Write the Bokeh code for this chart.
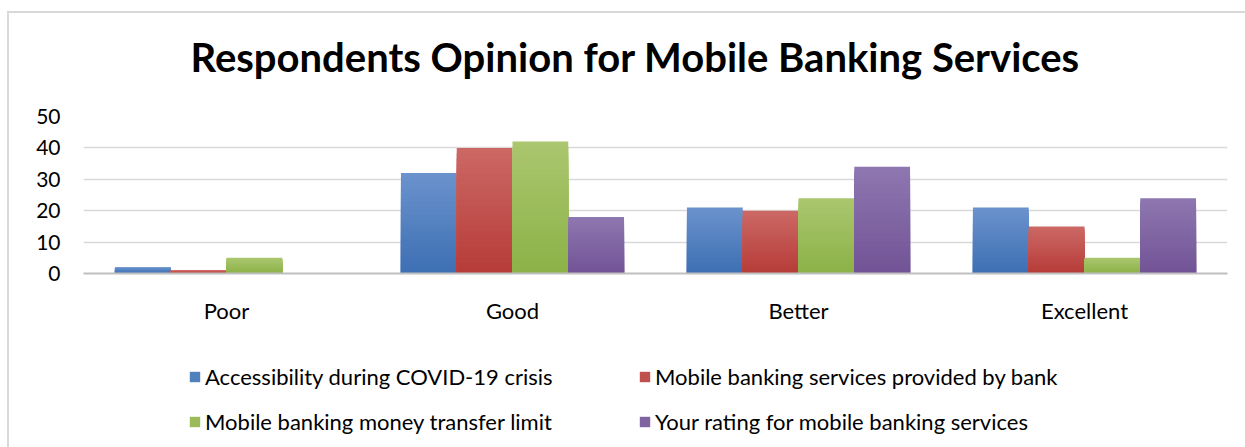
from bokeh.plotting import figure
from bokeh.layouts import column
from bokeh.models import ColumnDataSource, FactorRange, Legend, LegendItem, Range1d, Label
from bokeh.transform import dodge
from bokeh.embed import file_html
from bokeh.resources import INLINE

categories = ["Poor", "Good", "Better", "Excellent"]
series_names = [
    "Accessibility during COVID-19 crisis",
    "Mobile banking services provided by bank",
    "Mobile banking money transfer limit",
    "Your rating for mobile banking services",
]
accessibility = [2, 32, 21, 21]
services_by_bank = [1, 40, 20, 15]
transfer_limit = [5, 42, 24, 5]
your_rating = [0, 18, 34, 24]
y_ticks = [0, 10, 20, 30, 40, 50]
title_text = "Respondents Opinion for Mobile Banking Services"

series_values = [accessibility, services_by_bank, transfer_limit, your_rating]
mid_colors = ["#4f81bd", "#c0504d", "#9bbb59", "#8064a2"]
top_rgb = [(106, 146, 204), (204, 104, 100), (170, 198, 110), (142, 118, 176)]
bot_rgb = [(62, 112, 180), (182, 60, 57), (140, 178, 72), (114, 84, 150)]
offsets = [-0.2925, -0.0975, 0.0975, 0.2925]

FONT = "Lato"
W = 1236

x_range = FactorRange(*categories, range_padding=0)

def blank(height):
    f = figure(width=W, height=height, output_backend="svg", toolbar_location=None,
               x_range=x_range, y_range=Range1d(1000, 1001),
               x_axis_location=None, y_axis_location=None, min_border=0)
    f.outline_line_color = None
    f.grid.grid_line_color = None
    f.background_fill_color = "white"
    f.border_fill_color = "white"
    return f

# title panel
tp = blank(88)
tp.add_layout(Label(x=107, y=45, x_units="screen", y_units="screen", text=title_text,
                    text_font=FONT, text_font_size="40px", text_font_style="bold",
                    text_align="left", text_baseline="middle", text_color="#000000"))

# chart
p = figure(x_range=x_range, y_range=(0, 50),
           width=W, height=239, output_backend="svg", toolbar_location=None,
           min_border_left=74, min_border_right=18, min_border_top=15, min_border_bottom=67)
p.outline_line_color = None
p.background_fill_color = "white"
p.border_fill_color = "white"

# bars with a vertical shading (lighter at the top), drawn as nested layers
N = 24
for vals, off, t, b in zip(series_values, offsets, top_rgb, bot_rgb):
    for j in range(N):
        f = j / (N - 1)
        col = "#%02x%02x%02x" % tuple(int(round(t[i] + (b[i] - t[i]) * f)) for i in range(3))
        frac = (N - j) / N
        src = ColumnDataSource(dict(cat=categories, top=[v * frac for v in vals]))
        p.vbar(x=dodge("cat", off, range=x_range), top="top", width=0.195, source=src,
               fill_color=col, line_color=None)

p.ygrid.grid_line_color = "#d9d9d9"
p.ygrid.grid_line_width = 1.5
p.xgrid.grid_line_color = None

p.yaxis.ticker = y_ticks
p.yaxis.axis_line_color = None
p.yaxis.major_tick_line_color = None
p.yaxis.minor_tick_line_color = None
p.yaxis.major_label_standoff = 17
p.yaxis.major_label_text_font = FONT
p.yaxis.major_label_text_font_size = "21px"
p.yaxis.major_label_text_color = "#000000"

p.xaxis.axis_line_color = "#bfbfbf"
p.xaxis.axis_line_width = 2
p.xaxis.major_tick_line_color = None
p.xaxis.minor_tick_line_color = None
p.xaxis.major_label_standoff = 17
p.xaxis.major_label_text_font = FONT
p.xaxis.major_label_text_font_size = "22px"
p.xaxis.major_label_text_color = "#000000"

# legend panel (its own figure so the legend is not clipped by the chart frame)
lp = blank(107)
lsrc = ColumnDataSource(dict(cat=categories, s0=accessibility, s1=services_by_bank,
                             s2=transfer_limit, s3=your_rating))
swatches = [lp.vbar(x=dodge("cat", off, range=x_range), top="s%d" % i, bottom="s%d" % i,
                    width=0.195, source=lsrc, fill_color=c, line_color=None)
            for i, (c, off) in enumerate(zip(mid_colors, offsets))]

def make_legend(idx, loc):
    lg = Legend(items=[LegendItem(label=series_names[i], renderers=[swatches[i]]) for i in idx],
                location=loc, orientation="vertical")
    lg.border_line_color = None
    lg.background_fill_alpha = 0
    lg.padding = 0
    lg.margin = 0
    lg.spacing = 18
    lg.label_height = 20
    lg.glyph_height = 13
    lg.glyph_width = 13
    lg.label_standoff = 4
    lg.label_text_font = FONT
    lg.label_text_font_size = "22px"
    lg.label_text_color = "#000000"
    return lg

lp.add_layout(make_legend([0, 2], (105, 12)))
lp.add_layout(make_legend([1, 3], (555, 12)))

layout = column(tp, p, lp, spacing=0)
layout.margin = (11, 0, 0, 7)
layout.styles = {"border-top": "2px solid #d9d9d9", "border-left": "2px solid #d9d9d9"}

open("out.html", "w").write(file_html(layout, INLINE))
